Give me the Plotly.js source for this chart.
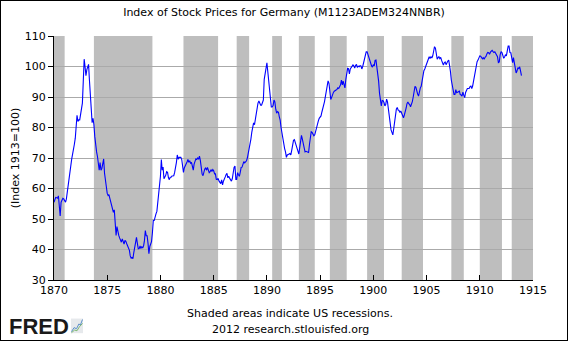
<!DOCTYPE html>
<html>
<head>
<meta charset="utf-8">
<script src="https://cdn.plot.ly/plotly-3.0.1.min.js"></script>
<style>
  html, body { margin: 0; padding: 0; background: #fff; }
  #chart { width: 566px; height: 339px; border: 1px solid #000; }
</style>
</head>
<body>
<div id="chart"></div>
<script>
// Monthly index values (1913=100)
const values1870s = [
  55.5, 56.8, 57.1, 57, 56.8, 57.6, 55, 51, 55.5, 56.6, 56.8, 56.6,
  56, 55.5, 56.5, 59, 60.8, 64, 65.3, 68, 69.7, 71.3, 72.5, 74.5,
  76.5, 80.5, 84, 82, 82.5, 82.5, 84.4, 85.5, 88, 95, 102.4, 100,
  97, 99, 100, 100.7, 95.5, 90, 84.5, 81.6, 83, 81, 77, 74,
  72, 70.5, 67.5, 66, 68.5, 66, 66.5, 68.5, 69.7, 65, 62.6, 61,
  58.4, 57.7, 58, 56.8, 55.5, 54, 53.2, 52.2, 53, 48.5, 44.6, 47.5,
  45.6, 44.6, 43.8, 43, 42.4, 43.5, 42.8, 41.8, 43, 42.7, 41.9, 41.1,
  40.4, 39.7, 37.9, 37.2, 37.4, 37, 39, 41.3, 42.5, 44, 42, 40.2,
  40.3, 41.2, 40.3, 41, 40.5, 41.1, 42.9, 46.2, 44.5, 44.5, 42, 38.6,
  41, 41.7, 42.6, 45.5, 49.5, 49.5, 51, 51.7, 52.5, 55.5, 59.5, 60.5
];
const values1880s = [
  64, 69.5, 66, 67, 63.2, 63.8, 64.3, 65.5, 65.3, 63.6, 62.9, 63.7,
  63.7, 64.1, 64.2, 64.2, 65.2, 66.5, 68.5, 71, 69.6, 70.2, 70.3, 70.2,
  69.5, 67.2, 65.3, 66.8, 67.3, 68, 68.7, 69.5, 68.6, 69.1, 68.3, 68.6,
  67.2, 66, 68, 69.1, 69.7, 69.5, 70, 69.6, 70.6, 69.2, 66, 64.7,
  64.2, 65.4, 66.4, 66.7, 66, 66.9, 66.2, 65.2, 65.5, 66.2, 65.6, 66.2,
  65.8, 64.8, 64.8, 63, 62.9, 63.3, 62.5, 62.2, 61.6, 62.8, 61.2, 62.4,
  63.6, 63.8, 64.5, 65, 63.5, 64, 63.4, 63, 62.4, 63.2, 65.6, 66.9,
  67.4, 63, 63, 65.2, 64.5, 64, 65.3, 66.9, 67, 68, 68.8, 68.4,
  68.8, 69.1, 70, 71.3, 72.7, 74.6, 76.2, 78.5, 80.9, 81.5, 80.9, 82.8,
  83.8, 86.8, 88, 88.7, 88.1, 87.3, 87.3, 88.6, 89, 95.8, 97.9, 100.7
];
const values1890s = [
  101.2, 98.3, 95, 91.3, 88, 86.7, 86.7, 87.2, 89, 88.4, 86, 84.7,
  85.2, 85, 83.6, 82.4, 80, 78, 76, 75, 73.1, 72, 70.2, 71,
  71.3, 71.3, 71.5, 71, 72.5, 74.2, 75.8, 76, 75, 74.3, 73.5, 72,
  71.3, 73.5, 76.7, 77.4, 76.2, 74.3, 73.2, 72, 72.2, 72.1, 72, 71.8,
  74.5, 76.7, 78.6, 78.4, 77.8, 77.3, 77.6, 79, 80.3, 81.1, 82.2, 83,
  83.5, 83.8, 85, 86, 87.5, 88.5, 90.2, 91.8, 93.5, 95.3, 94.5, 90,
  89.2, 89.9, 90.9, 91.5, 91.9, 92, 92.3, 92.5, 93, 92.8, 93.5, 94,
  95.5, 94, 95.2, 94, 93, 95.8, 98, 99.4, 99.3, 97.6, 99.2, 99.6,
  100.3, 100.5, 100.2, 99.5, 100.3, 100.7, 99.8, 100.1, 99.9, 100.3, 100.2, 99.2,
  100, 101.2, 102.7, 103.8, 104.8, 104.8, 103.8, 103.3, 102.5, 101.3, 100.2, 99.8
];
const values1900s = [
  100.6, 100.2, 102, 102.1, 100.3, 97.5, 95.2, 91.2, 88.7, 87.1, 88.9, 88.8,
  88.2, 87.1, 87.5, 89.3, 88.4, 86, 82.8, 80.4, 79.2, 78.4, 77.6, 79.6,
  82.3, 84, 86, 86.6, 85.7, 85.6, 84.9, 85.4, 84.8, 84.1, 83.2, 84.1,
  85, 86.4, 87.8, 88.4, 87.8, 87.5, 86.8, 87.6, 88.5, 90, 91.4, 93.5,
  93.2, 91.8, 91, 90.3, 91.9, 93, 93.5, 95.5, 97.3, 98.6, 99.2, 99.9,
  100.8, 101.9, 102.6, 103.2, 102.6, 103.2, 102.8, 103.5, 105, 106.5, 106, 104.4,
  102.4, 102.9, 103.2, 102.6, 103, 102, 101.5, 100.5, 101.2, 101.5, 100.6, 101.4,
  101.8, 102.1, 100.7, 98.3, 95.5, 93.6, 92.1, 90.8, 90.8, 92.4, 91.4, 91.6,
  91.7, 91.9, 90.8, 90.7, 90.3, 91.6, 90.6, 89.8, 91.5, 92.5, 92.8, 92.8,
  92.8, 93.4, 93.6, 92.8, 93.6, 95.2, 96.8, 99.1, 100.6, 101.6, 102.1, 102.8
];
const values1910s = [
  103.5, 103.4, 102.7, 102.5, 102.9, 102.4, 103, 103.3, 104.1, 104.6, 104.5, 104,
  104.7, 105, 105.3, 104.9, 104.6, 104.8, 104.3, 104.1, 103.2, 101.3, 101.5, 103.8,
  104.9, 104.6, 103.9, 102.7, 103.1, 103.9, 103.5, 105, 106.7, 106.7, 104.6, 104.5,
  101.8, 101.3, 102.9, 101.2, 99.6, 97.9, 98.5, 99.6, 99.3, 99.9, 98.5, 97
];
const startYear = 1870;

// US recessions (NBER), peak to trough
const recessionStarts = ['1869-06-01','1873-10-01','1882-03-01','1887-03-01','1890-07-01','1893-01-01',
                         '1895-12-01','1899-06-01','1902-09-01','1907-05-01','1910-01-01','1913-01-01'];
const recessionEnds   = ['1871-01-01','1879-04-01','1885-06-01','1888-05-01','1891-06-01','1894-07-01',
                         '1897-07-01','1901-01-01','1904-09-01','1908-07-01','1912-02-01','1915-01-01'];

const yTickVals = [30, 40, 50, 60, 70, 80, 90, 100, 110];

const values = [].concat(values1870s, values1880s, values1890s, values1900s, values1910s);
const dates = values.map((_, i) => {
  const y = startYear + Math.floor(i / 12);
  const m = (i % 12) + 1;
  return y + '-' + (m < 10 ? '0' + m : m) + '-01';
});

const font = 'DejaVu Sans, Verdana, sans-serif';

const shapes = recessionStarts.map((s, i) => ({
  type: 'rect', xref: 'x', yref: 'paper',
  x0: s, x1: recessionEnds[i], y0: 0, y1: 1,
  fillcolor: '#bebebe', line: { width: 0 }, layer: 'between'
}));

// FRED logo icon (decorative)
shapes.push({
  type: 'rect', xref: 'paper', yref: 'paper',
  x0: 0.0354, x1: 0.0605, y0: -0.218, y1: -0.158,
  fillcolor: '#e6e9ec', line: { width: 0 }, layer: 'above'
});
shapes.push({
  type: 'path', xref: 'paper', yref: 'paper',
  path: 'M0.0365,-0.212 L0.042,-0.195 L0.047,-0.200 L0.052,-0.180 L0.055,-0.185 L0.0595,-0.162',
  line: { color: '#5b8fc9', width: 1 }, layer: 'above'
});
shapes.push({
  type: 'path', xref: 'paper', yref: 'paper',
  path: 'M0.0365,-0.216 L0.043,-0.205 L0.048,-0.208 L0.053,-0.192 L0.0595,-0.178',
  line: { color: '#7cb870', width: 1 }, layer: 'above'
});

const trace = {
  x: dates, y: values, type: 'scatter', mode: 'lines',
  line: { color: '#0000ff', width: 1.1 },
  hoverinfo: 'skip'
};

const layout = {
  width: 566, height: 339,
  margin: { l: 53, r: 34, t: 35, b: 60 },
  paper_bgcolor: '#ffffff', plot_bgcolor: '#ffffff',
  showlegend: false,
  font: { family: font, size: 11, color: '#000' },
  title: {
    text: 'Index of Stock Prices for Germany (M1123ADEM324NNBR)',
    font: { family: font, size: 11, color: '#000' },
    x: 0.5, xref: 'container', xanchor: 'center',
    y: 0.968, yref: 'container', yanchor: 'middle'
  },
  xaxis: {
    type: 'date',
    range: ['1870-01-01', '1915-01-01'],
    tick0: '1870-01-01', dtick: 'M60', tickformat: '%Y',
    ticks: 'inside', ticklen: 5, tickcolor: '#000', tickwidth: 1,
    showline: true, linecolor: '#000', linewidth: 1,
    showgrid: false, zeroline: false,
    tickfont: { family: font, size: 11, color: '#000' },
    fixedrange: true
  },
  yaxis: {
    range: [30, 110],
    tickmode: 'array', tickvals: yTickVals,
    ticks: 'outside', ticklen: 5, tickcolor: '#000', tickwidth: 1,
    showline: true, linecolor: '#000', linewidth: 1,
    showgrid: true, gridcolor: '#aaaaaa', gridwidth: 1,
    zeroline: false,
    tickfont: { family: font, size: 11, color: '#000' },
    fixedrange: true
  },
  shapes: shapes,
  annotations: [
    {
      text: '(Index 1913=100)', xref: 'paper', yref: 'paper',
      x: -0.081, y: 0.5, xanchor: 'center', yanchor: 'middle',
      textangle: -90, showarrow: false,
      font: { family: font, size: 11, color: '#000' }
    },
    {
      text: 'Shaded areas indicate US recessions.', xref: 'paper', yref: 'paper',
      x: 0.4927, y: -0.139, xanchor: 'center', yanchor: 'middle', showarrow: false,
      font: { family: font, size: 11, color: '#000' }
    },
    {
      text: '2012 research.stlouisfed.org', xref: 'paper', yref: 'paper',
      x: 0.4927, y: -0.201, xanchor: 'center', yanchor: 'middle', showarrow: false,
      font: { family: font, size: 11, color: '#000' }
    },
    {
      text: '<b>FRED</b>', xref: 'paper', yref: 'paper',
      x: -0.098, y: -0.189, xanchor: 'left', yanchor: 'middle', showarrow: false,
      font: { family: 'Liberation Sans, Arial, sans-serif', size: 22, color: '#1a1a1a' }
    }
  ],
  hovermode: false
};

Plotly.newPlot('chart', [trace], layout, { displayModeBar: false, staticPlot: true });
</script>
</body>
</html>
